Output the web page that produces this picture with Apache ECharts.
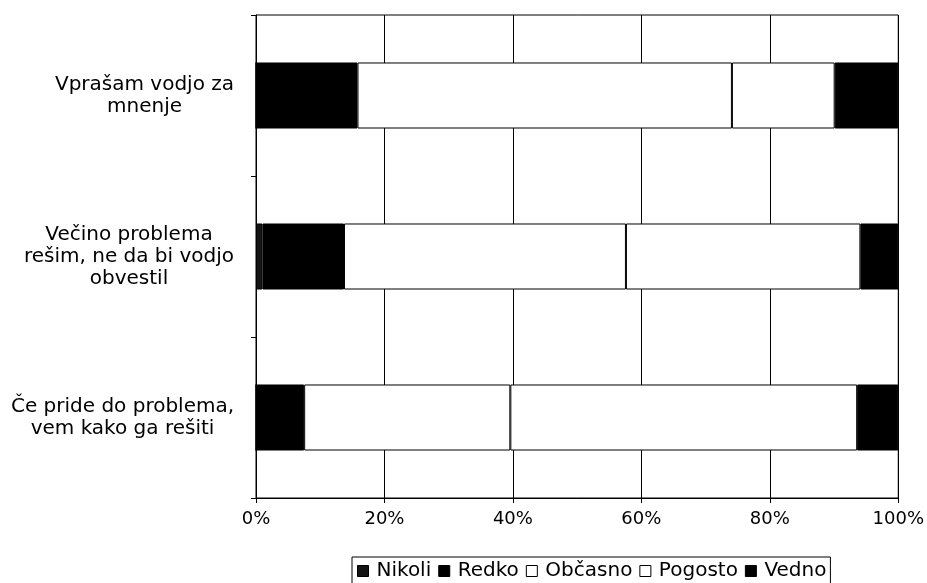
<!DOCTYPE html>
<html>
<head>
<meta charset="utf-8">
<script src="https://cdn.jsdelivr.net/npm/echarts@6/dist/echarts.min.js"></script>
<style>
  html, body { margin: 0; padding: 0; background: #fff; }
  #chart { width: 927px; height: 583px; }
</style>
</head>
<body>
<div id="chart"></div>
<script>
// Statements, listed from top to bottom
const categories = [
  'Vprašam vodjo za\nmnenje',
  'Večino problema\nrešim, ne da bi vodjo\nobvestil',
  'Če pride do problema,\nvem kako ga rešiti'
];
const seriesNames = ['Nikoli', 'Redko', 'Občasno', 'Pogosto', 'Vedno'];
// Shares in percent for each statement
const nikoli  = [0,    1.0,  0];
const redko   = [15.8, 12.7, 7.5];
const obcasno = [58.3, 43.9, 32.1];
const pogosto = [16.0, 36.5, 54.0];
const vedno   = [9.9,  5.9,  6.4];
const xTicks = [0, 20, 40, 60, 80, 100];

const FONT = 'DejaVu Sans';
const labelSize = 20;

const seriesValues = [nikoli, redko, obcasno, pogosto, vedno];
const fills = ['#141414', '#000000', '#ffffff', '#ffffff', '#000000'];

// Width of the widest line of each category label, so every block is
// right-aligned against the axis while its lines stay centred.
const ctx = document.createElement('canvas').getContext('2d');
ctx.font = labelSize + 'px "' + FONT + '"';
const rich = {};
categories.forEach((c, i) => {
  const w = Math.max(...c.split('\n').map(l => ctx.measureText(l).width));
  rich['r' + i] = {
    width: Math.ceil(w) + 1,
    align: 'center',
    fontFamily: FONT,
    fontSize: labelSize,
    lineHeight: 22,
    color: '#000'
  };
});

const chart = echarts.init(document.getElementById('chart'), null, { renderer: 'canvas' });

chart.setOption({
  animation: false,
  backgroundColor: '#fff',
  textStyle: { fontFamily: FONT, color: '#000' },
  grid: {
    left: 256, right: 27, top: 15, bottom: 85,
    show: true, borderColor: '#000', borderWidth: 1, backgroundColor: 'transparent'
  },
  legend: {
    left: 352, top: 557,
    data: seriesNames.map((n, i) => ({
      name: n,
      icon: 'rect',
      itemStyle: { color: fills[i], borderColor: '#000', borderWidth: 1 }
    })),
    itemWidth: 11, itemHeight: 11, itemGap: 7,
    borderColor: '#000', borderWidth: 1,
    padding: [4, 4, 10, 5],
    textStyle: { fontFamily: FONT, fontSize: 20, color: '#000', padding: [0, 0, 0, 3] }
  },
  xAxis: {
    type: 'value',
    min: xTicks[0], max: xTicks[xTicks.length - 1], interval: 20,
    axisLine: { show: true, lineStyle: { color: '#000', width: 1 } },
    axisTick: { show: true, length: 5, lineStyle: { color: '#000' } },
    splitLine: { show: true, lineStyle: { color: '#000', width: 1 } },
    axisLabel: {
      formatter: v => v + '%',
      fontFamily: FONT, fontSize: 18, color: '#000', margin: 12
    }
  },
  yAxis: {
    type: 'category',
    inverse: true,
    data: categories,
    axisLine: { show: true, lineStyle: { color: '#000', width: 1 } },
    axisTick: { show: true, length: 5, alignWithLabel: false, lineStyle: { color: '#000' } },
    splitLine: { show: false },
    axisLabel: {
      margin: 21,
      align: 'right',
      formatter: (v, i) => v.split('\n').map(l => '{r' + i + '|' + l + '}').join('\n'),
      rich: rich
    }
  },
  series: seriesNames.map((n, i) => ({
    name: n,
    type: 'bar',
    stack: 'total',
    barWidth: '41%',
    data: seriesValues[i],
    itemStyle: { color: fills[i], borderColor: '#000', borderWidth: 1 }
  }))
});
</script>
</body>
</html>
